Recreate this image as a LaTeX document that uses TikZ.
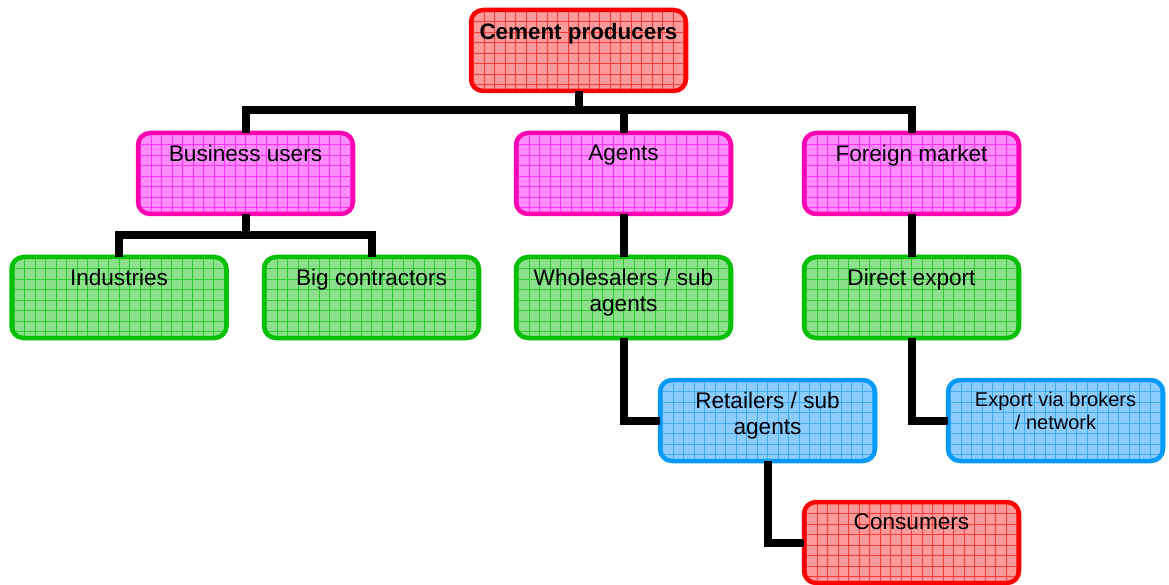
\documentclass[tikz,border=0pt]{standalone}
\usepackage{fontspec}
\setmainfont{Liberation Sans}
\definecolor{redB}{HTML}{FF0000}
\definecolor{redF}{HTML}{FF9A9A}
\definecolor{redG}{HTML}{FF3A3A}
\definecolor{magB}{HTML}{FF00B0}
\definecolor{magF}{HTML}{FF8CFF}
\definecolor{magG}{HTML}{FF30FF}
\definecolor{grnB}{HTML}{00C000}
\definecolor{grnF}{HTML}{8CE08C}
\definecolor{grnG}{HTML}{30C830}
\definecolor{bluB}{HTML}{0099FF}
\definecolor{bluF}{HTML}{8CCCFF}
\definecolor{bluG}{HTML}{40AAFF}
\tikzset{
  box/.style args={#1/#2/#3}{draw=#1, fill=#2, line width=4.5pt, rounded corners=12pt,
    minimum width=215pt, minimum height=81pt, inner sep=0pt, outer sep=0pt,
    path picture={\draw[#3, line width=0.6pt] ([xshift=-1pt,yshift=-1pt]path picture bounding box.south west) grid[step=10.5pt] (path picture bounding box.north east);}},
  redbox/.style={box=redB/redF/redG},
  magbox/.style={box=magB/magF/magG},
  grnbox/.style={box=grnB/grnF/grnG},
  blubox/.style={box=bluB/bluF/bluG},
  conn/.style={draw=black, line width=8pt},
}
\newcommand\btxt[3][22.6pt]{\begin{minipage}[c][81pt][t]{210pt}\centering\fontsize{#1}{26pt}\selectfont\vspace*{#2}#3\end{minipage}}
\begin{document}
\begin{tikzpicture}[x=1pt,y=-1pt]
\useasboundingbox (0,0) rectangle (1169,585);
% boxes
\node[redbox] (cem) at (578.5,50.5) {\btxt[22.4pt]{13pt}{\bfseries Cement producers}};
\node[magbox] (bus) at (245.5,173.5) {\btxt{12pt}{Business users}};
\node[magbox] (agt) at (623.5,173.5) {\btxt{12pt}{Agents}};
\node[magbox] (frn) at (911.5,173.5) {\btxt{12pt}{Foreign market}};
\node[grnbox] (ind) at (119,297.5) {\btxt{12pt}{Industries}};
\node[grnbox] (big) at (371.5,297.5) {\btxt{12pt}{Big contractors}};
\node[grnbox] (who) at (623.5,297.5) {\btxt{12pt}{Wholesalers / sub\\agents}};
\node[grnbox] (dex) at (911.5,297.5) {\btxt{12pt}{Direct export}};
\node[blubox] (ret) at (767.5,420.5) {\btxt{12pt}{Retailers / sub\\agents}};
\node[blubox] (exb) at (1055.5,420.5) {\btxt[20pt]{12pt}{Export via brokers\\[-3pt]/ network}};
\node[redbox] (con) at (911.5,542.5) {\btxt{12pt}{Consumers}};
% connectors
\draw[conn] (cem.south) -- ++(0,19) coordinate (j1);
\draw[conn] (bus.north) |- (j1) -| (frn.north);
\draw[conn] (j1) -| (agt.north);
\draw[conn] (bus.south) -- ++(0,21) coordinate (j2);
\draw[conn] (ind.north) |- (j2) -| (big.north);
\draw[conn] (agt.south) -- (who.north);
\draw[conn] (frn.south) -- (dex.north);
\draw[conn] (who.south) |- (ret.west);
\draw[conn] (dex.south) |- (exb.west);
\draw[conn] (ret.south) |- (con.west);
\end{tikzpicture}
\end{document}
